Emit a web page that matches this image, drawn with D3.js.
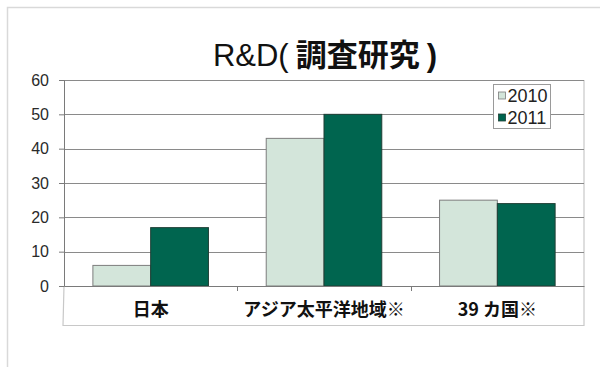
<!DOCTYPE html>
<html>
<head>
<meta charset="utf-8">
<script src="https://cdn.jsdelivr.net/npm/d3@7"></script>
<style>
  html, body { margin: 0; padding: 0; background: #fff; }
  svg { display: block; }
</style>
</head>
<body>
<svg id="chart" width="600" height="367"></svg>
<script>
// R&D survey: share by region, 2010 vs 2011
const categories = ["日本", "アジア太平洋地域※", "39 カ国※"];
const seriesNames = ["2010", "2011"];
const values2010 = [6, 43, 25];
const values2011 = [17, 50, 24];
const yTicks = [0, 10, 20, 30, 40, 50, 60];
const titleLatin = "R&D(";
const titleCjk = " 調査研究 ";
const titleEnd = ")";

const colors = { "2010": "#d3e5da", "2011": "#00654f" };
const strokes = { "2010": "#7d7d7d", "2011": "#1f3f35" };

const svg = d3.select("#chart");
const W = 600, H = 367;
const plot = { left: 64, right: 584, top: 80, bottom: 286 };

// outer chart frame
svg.append("rect")
  .attr("x", 7.5).attr("y", 7.5)
  .attr("width", W + 10).attr("height", H + 10)
  .attr("fill", "#fff").attr("stroke", "#d9d9d9").attr("stroke-width", 1.5);

const x = d3.scaleBand().domain(categories).range([plot.left, plot.right]).paddingInner(0).paddingOuter(0);
const xInner = d3.scaleBand().domain(seriesNames).range([0, x.bandwidth()]).paddingInner(0).paddingOuter(0.5);
const y = d3.scaleLinear().domain([0, 60]).range([plot.bottom, plot.top]);

// lower frame below the axis (label area)
svg.append("path")
  .attr("d", `M${plot.left},${plot.bottom} L${plot.left - 1},325.5 L${plot.right},325.5 L${plot.right},${plot.top}`)
  .attr("fill", "none").attr("stroke", "#c8c8c8").attr("stroke-width", 1.2);

// horizontal gridlines
svg.append("g")
  .selectAll("line")
  .data(yTicks.filter(d => d > 0))
  .join("line")
  .attr("x1", plot.left).attr("x2", plot.right)
  .attr("y1", d => Math.round(y(d)) + 0.5).attr("y2", d => Math.round(y(d)) + 0.5)
  .attr("stroke", "#8a8a8a").attr("stroke-width", 1);

// bars
const groups = svg.append("g")
  .selectAll("g")
  .data(categories.map((c, i) => ({ cat: c, vals: [values2010[i], values2011[i]] })))
  .join("g")
  .attr("transform", d => `translate(${x(d.cat)},0)`);

groups.selectAll("rect")
  .data(d => d.vals.map((v, j) => ({ key: seriesNames[j], v })))
  .join("rect")
  .attr("x", d => xInner(d.key))
  .attr("width", xInner.bandwidth())
  .attr("y", d => y(d.v))
  .attr("height", d => y(0) - y(d.v))
  .attr("fill", d => colors[d.key])
  .attr("stroke", d => strokes[d.key])
  .attr("stroke-width", 1);

// y axis
const yAxis = d3.axisLeft(y).tickValues(yTicks).tickSize(5).tickPadding(10);
const gy = svg.append("g").attr("transform", `translate(${plot.left},0)`).call(yAxis);
gy.select(".domain").attr("stroke", "#7a7a7a");
gy.selectAll(".tick line").attr("stroke", "#7a7a7a");
gy.selectAll(".tick text")
  .attr("fill", "#2a2a2a")
  .style("font-family", "'Liberation Sans', Arial, sans-serif")
  .style("font-size", "16px");

// x axis
const xAxis = d3.axisBottom(x).tickSize(0).tickPadding(17);
const gx = svg.append("g").attr("transform", `translate(0,${plot.bottom})`).call(xAxis);
gx.select(".domain").attr("stroke", "#7a7a7a");
gx.selectAll(".tick text")
  .attr("fill", "#111")
  .style("font-family", "'Noto Sans CJK JP', sans-serif")
  .style("font-weight", "bold")
  .style("font-size", "18px");
// category separator ticks
svg.append("g")
  .selectAll("line")
  .data(categories.slice(1))
  .join("line")
  .attr("x1", d => Math.round(x(d)) + 0.5).attr("x2", d => Math.round(x(d)) + 0.5)
  .attr("y1", plot.bottom).attr("y2", plot.bottom + 5)
  .attr("stroke", "#7a7a7a");

// title
const title = svg.append("text")
  .attr("x", 325).attr("y", 66)
  .attr("text-anchor", "middle")
  .attr("fill", "#111")
  .style("font-size", "31px");
title.append("tspan")
  .style("font-family", "'Liberation Sans Narrow', 'Liberation Sans', sans-serif")
  .text(titleLatin);
title.append("tspan")
  .style("font-family", "'Noto Sans CJK JP', sans-serif")
  .style("font-weight", "bold")
  .text(titleCjk);
title.append("tspan")
  .style("font-family", "'Liberation Sans', sans-serif")
  .style("font-weight", "bold")
  .text(titleEnd);

// legend
const lg = svg.append("g").attr("transform", "translate(493.5,84.5)");
lg.append("rect").attr("width", 57).attr("height", 44)
  .attr("fill", "#fff").attr("stroke", "#9a9a9a").attr("stroke-width", 1);
const items = lg.selectAll("g.item").data(seriesNames).join("g")
  .attr("class", "item")
  .attr("transform", (d, i) => `translate(5,${11 + i * 22})`);
items.append("rect")
  .attr("x", 0).attr("y", -3.5).attr("width", 7).attr("height", 7)
  .attr("fill", d => colors[d]).attr("stroke", d => strokes[d]).attr("stroke-width", 0.8);
items.append("text")
  .attr("x", 9).attr("y", 6.5)
  .attr("fill", "#222")
  .style("font-family", "'Liberation Sans', Arial, sans-serif")
  .style("font-size", "18px")
  .text(d => d);
</script>
</body>
</html>
